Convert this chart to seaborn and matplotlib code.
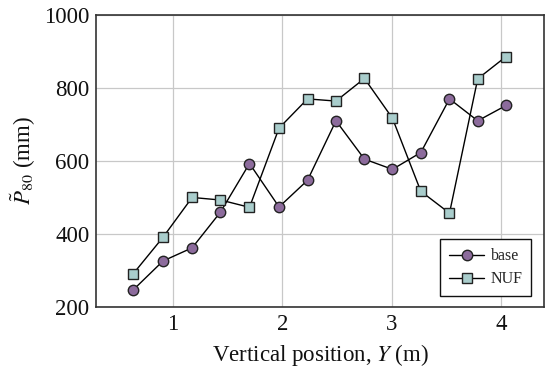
import matplotlib
matplotlib.use("Agg")
import matplotlib.pyplot as plt
import seaborn as sns
import pandas as pd

y_pos = [0.635, 0.91, 1.176, 1.435, 1.70, 1.97, 2.23, 2.49, 2.75, 3.006, 3.265, 3.527, 3.785, 4.044]
base = [246, 326, 362, 460, 593, 474, 547, 710, 605, 577, 623, 770, 710, 752]
nuf = [290, 391, 500, 493, 473, 690, 770, 764, 826, 717, 517, 457, 825, 886]
series_names = ["base", "NUF"]
x_ticks = [1, 2, 3, 4]
y_ticks = [200, 400, 600, 800, 1000]

sns.set_theme(style="whitegrid")
plt.rcParams["font.family"] = ["Liberation Serif", "DejaVu Serif"]
plt.rcParams["mathtext.fontset"] = "stix"

df = pd.DataFrame({
    "Y": y_pos * 2,
    "P": base + nuf,
    "series": [series_names[0]] * len(base) + [series_names[1]] * len(nuf),
})

fig, ax = plt.subplots(figsize=(5.5, 3.73), dpi=100)
fig.subplots_adjust(left=0.175, right=0.989, top=0.96, bottom=0.177)

colors = {"base": "#8c6b9c", "NUF": "#a9cdcc"}
markers = {"base": "o", "NUF": "s"}
for name in series_names:
    sub = df[df["series"] == name]
    sns.lineplot(data=sub, x="Y", y="P", ax=ax, color="black", lw=1.0,
                 marker=markers[name], markersize=7.5 if name == "base" else 7,
                 markerfacecolor=colors[name], markeredgecolor="#222222",
                 markeredgewidth=1.0, label=name, sort=False)

ax.set_xlim(0.30, 4.39)
ax.set_ylim(200, 1000)
ax.set_xticks(x_ticks)
ax.set_yticks(y_ticks)
ax.tick_params(axis="both", labelsize=16.5, length=0, pad=5, colors="#111111")
ax.grid(True, color="#c8c8c8", lw=0.9)
for s in ax.spines.values():
    s.set_color("#333333")
    s.set_linewidth(1.2)
ax.set_facecolor("white")

ax.set_xlabel(r"Vertical position, $Y$ (m)", fontsize=16.5, color="#111111", labelpad=5)
ax.set_ylabel(r"$\tilde{P}_{80}$ (mm)", fontsize=16.5, color="#111111", labelpad=4)

leg = ax.legend(loc="lower right", fontsize=11.5, frameon=True, fancybox=False,
                edgecolor="#111111", framealpha=1, borderpad=0.55,
                labelspacing=0.45, handlelength=2.2, handletextpad=0.4,
                bbox_to_anchor=(0.99, 0.01))
leg.get_frame().set_linewidth(1.0)

fig.savefig("out.png", dpi=100)
